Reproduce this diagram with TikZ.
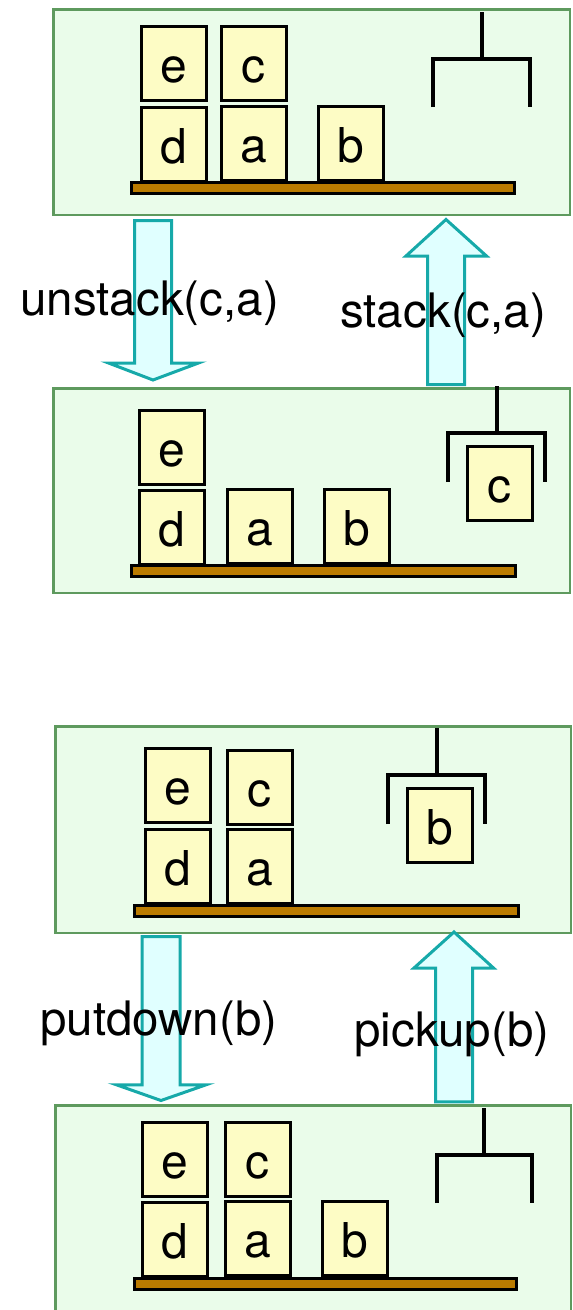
\documentclass[tikz,border=0pt]{standalone}
\usepackage{fontspec}
\setmainfont{TeX Gyre Heros}

\definecolor{panelfill}{HTML}{EAFCEA}
\definecolor{panelline}{HTML}{5E9A5E}
\definecolor{blockfill}{HTML}{FDFCC5}
\definecolor{tablefill}{HTML}{BA7B00}
\definecolor{arrowfill}{HTML}{E0FFFF}
\definecolor{arrowline}{HTML}{16A9A9}

\tikzset{
  panel/.style={draw=panelline, fill=panelfill, line width=2.5pt, inner sep=0pt, anchor=north west},
  blk/.style={draw=black, fill=blockfill, line width=3pt, minimum width=65pt, minimum height=74pt,
    inner sep=0pt, anchor=north west, text height=38pt, text depth=0pt,
    font=\fontsize{48}{52}\selectfont},
  tbl/.style={draw=black, fill=tablefill, line width=3pt, inner sep=0pt, anchor=north west,
    minimum height=11pt},
  grip/.style={draw=black, line width=3.5pt, line join=miter},
  bigarrow/.style={draw=arrowline, fill=arrowfill, line width=3pt, line join=miter},
  act/.style={anchor=base west, inner sep=0pt, font=\fontsize{47.5}{52}\selectfont},
}

% block: name, outer left, outer top, letter
\newcommand\cube[4]{\node[blk] (#1) at ({#2+1.5},{#3+1.5}) {#4};}
% table: name, outer left, outer top, path width
\newcommand\shelf[4]{\node[tbl, minimum width=#4pt] (#1) at ({#2+1.5},{#3+1.5}) {};}
% gripper: stem x, stem top, bar y, left leg x, right leg x, leg bottom
\newcommand\claw[6]{\draw[grip] (#1,#2) -- (#1,#3) (#4,#6) -- (#4,#3) -- (#5,#3) -- (#5,#6);}

\begin{document}
\begin{tikzpicture}[x=1pt,y=-1pt]
\useasboundingbox (0,0) rectangle (573,1310);

% ---------- state 1 ----------
\node[panel, minimum width=516.5pt, minimum height=205.5pt] (p1) at (52.25,8.25) {};
\shelf{t1}{128}{179}{383}
\cube{e1}{138}{23}{e}
\cube{c1}{218}{23}{c}
\cube{d1}{138}{104}{d}
\cube{a1}{218}{103}{a}
\cube{b1}{315}{103}{b}
\claw{482}{12}{59}{433}{530}{107}

% ---------- state 2 ----------
\node[panel, minimum width=516.5pt, minimum height=204.5pt] (p2) at (52.25,387.25) {};
\shelf{t2}{128}{562}{384}
\cube{e2}{136}{407}{e}
\cube{d2}{136}{487}{d}
\cube{a2}{224}{486}{a}
\cube{b2}{321}{486}{b}
\cube{c2}{464}{443}{c}
\claw{497}{386}{433}{448}{545}{482}

% ---------- state 3 ----------
\node[panel, minimum width=515.5pt, minimum height=206.5pt] (p3) at (54.25,725.25) {};
\shelf{t3}{131}{902}{384}
\cube{e3}{142}{745}{e}
\cube{c3}{224}{747}{c}
\cube{d3}{142}{826}{d}
\cube{a3}{224}{826}{a}
\cube{b3}{404}{785}{b}
\claw{437}{728}{775}{388}{485}{824}

% ---------- state 4 ----------
\node[panel, minimum width=515.5pt, minimum height=220pt] (p4) at (54.25,1104.25) {};
\shelf{t4}{131}{1275}{382}
\cube{e4}{139}{1119}{e}
\cube{c4}{222}{1119}{c}
\cube{d4}{139}{1199}{d}
\cube{a4}{222}{1198}{a}
\cube{b4}{319}{1198}{b}
\claw{484}{1108}{1155}{437}{532}{1203}

% ---------- transition arrows ----------
% unstack(c,a): state 1 -> state 2
\draw[bigarrow] (134.5,220.5) -- (171.5,220.5) -- (171.5,363) -- (198.5,363)
  -- (153,380) -- (108.5,363) -- (134.5,363) -- cycle;
% stack(c,a): state 2 -> state 1
\draw[bigarrow] (427.5,384.5) -- (464.5,384.5) -- (464.5,256) -- (486.5,256)
  -- (446,219.5) -- (406,256) -- (427.5,256) -- cycle;
% putdown(b): state 3 -> state 4
\draw[bigarrow] (142.2,936.5) -- (180,936.5) -- (180,1084.8) -- (206,1084.8)
  -- (161,1100.5) -- (116.5,1084.8) -- (142.2,1084.8) -- cycle;
% pickup(b): state 4 -> state 3
\draw[bigarrow] (435.7,1101.8) -- (472.6,1101.8) -- (472.6,968) -- (493.5,968)
  -- (454,932) -- (414,968) -- (435.7,968) -- cycle;

% ---------- action labels ----------
\node[act] (l1) at (20,315) {unstack(c,a)};
\node[act] (l2) at (340,327) {stack(c,a)};
\node[act] (l3) at (40,1035) {putdown(b)};
\node[act] (l4) at (354,1046) {pickup(b)};
\end{tikzpicture}
\end{document}
